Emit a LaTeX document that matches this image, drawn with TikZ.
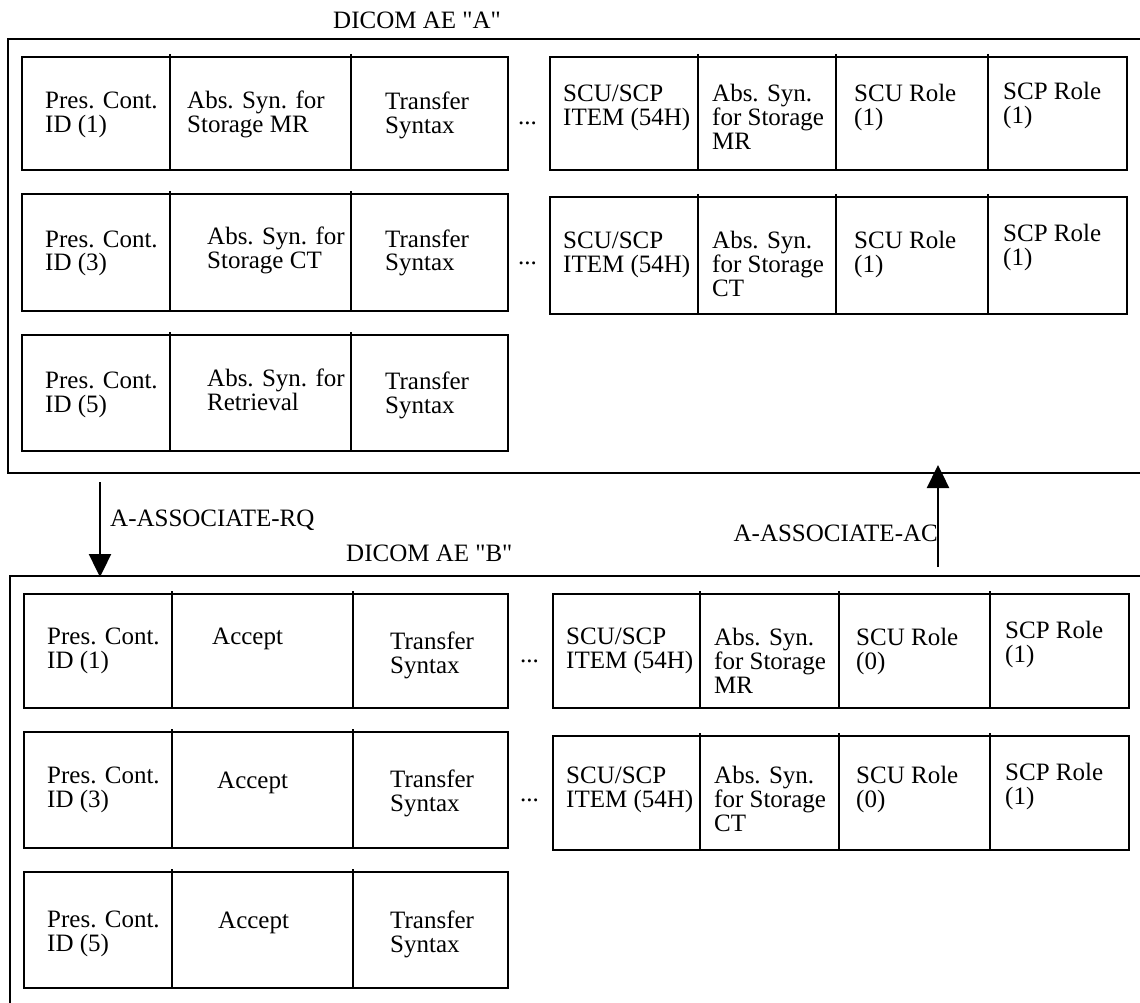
\documentclass[tikz,border=0pt]{standalone}
\usepackage{fontspec}
\setmainfont{Liberation Serif}[Ligatures=TeXOff]
\usetikzlibrary{arrows.meta}
\newcommand\ml[1]{\vtop{\halign{##\hfil\cr#1\crcr}}}
\newcommand\cellrow[6]{%
  \node[rowbox, minimum width=#4pt, minimum height=#5pt] (#1) at (#2,#3) {};
  \foreach \d in {#6} \draw[sep] (\d,#3-2) -- (\d,#3+#5+2);}
\begin{document}
\begin{tikzpicture}[x=1pt,y=-1pt,
  frame/.style={line width=2.6pt},
  rowbox/.style={draw, line width=2.4pt, inner sep=0pt, anchor=north west},
  sep/.style={line width=2.4pt},
  txt/.style={font=\fontsize{25}{24}\selectfont, inner sep=0pt, anchor=base west},
  arr/.style={line width=2.4pt, -{Triangle[length=23pt,width=22pt]}}
]
\useasboundingbox (0,0) rectangle (1140,1003);
\clip (0,0) rectangle (1140,1003);

% frames
\draw[frame] (1150,39) -- (8,39) -- (8,473) -- (1150,473);
\draw[frame] (1150,576) -- (10,576) -- (10,1010);

% rows of AE A
\cellrow{a1l}{21}{56}{486}{113}{170,351}
\cellrow{a2l}{21}{193}{486}{117}{170,351}
\cellrow{a3l}{21}{334}{486}{116}{170,351}
\cellrow{a1r}{549}{56}{577}{113}{698,836,988}
\cellrow{a2r}{549}{196}{577}{117}{698,836,988}

% rows of AE B
\cellrow{b1l}{23}{593}{484}{114}{172,353}
\cellrow{b2l}{23}{731}{484}{116}{172,353}
\cellrow{b3l}{23}{871}{484}{116}{172,353}
\cellrow{b1r}{552}{593}{576}{114}{700,839,990}
\cellrow{b2r}{552}{735}{576}{114}{700,839,990}

% labels
\node[txt] (la) at (333,29) {DICOM AE "A"};
\node[txt] (lb) at (346,561) {DICOM AE "B"};
\node[txt] (lrq) at (110,526) {A-ASSOCIATE-RQ};
\node[txt, anchor=base east] (lac) at (938,541) {A-ASSOCIATE-AC};

% arrows
\coordinate (rqs) at (100,482);
\coordinate (rqe) at (100,577);
\coordinate (acs) at (938,567);
\coordinate (ace) at (938,465);
\draw[arr] (rqs) -- (rqe);
\draw[arr] (acs) -- (ace);

% AE A row 1
\node[txt] (ta11) at (45,109) {\ml{Pres. Cont.\cr ID (1)}};
\node[txt] (ta12) at (187,109) {\ml{Abs. Syn. for\cr Storage MR}};
\node[txt] (ta13) at (385,110) {\ml{Transfer\cr Syntax}};
\node[txt] (da1) at (518,125) {...};
\node[txt] (ta14) at (563,102) {\ml{SCU/SCP\cr ITEM (54H)}};
\node[txt] (ta15) at (712,102) {\ml{Abs. Syn.\cr for Storage\cr MR}};
\node[txt] (ta16) at (854,102) {\ml{SCU Role\cr (1)}};
\node[txt] (ta17) at (1003,100) {\ml{SCP Role\cr (1)}};

% AE A row 2
\node[txt] (ta21) at (45,247) {\ml{Pres. Cont.\cr ID (3)}};
\node[txt] (ta22) at (207,244) {\ml{Abs. Syn. for\cr Storage CT}};
\node[txt] (ta23) at (385,247) {\ml{Transfer\cr Syntax}};
\node[txt] (da2) at (518,264) {...};
\node[txt] (ta24) at (563,248) {\ml{SCU/SCP\cr ITEM (54H)}};
\node[txt] (ta25) at (712,248) {\ml{Abs. Syn.\cr for Storage\cr CT}};
\node[txt] (ta26) at (854,248) {\ml{SCU Role\cr (1)}};
\node[txt] (ta27) at (1003,241) {\ml{SCP Role\cr (1)}};

% AE A row 3
\node[txt] (ta31) at (45,388) {\ml{Pres. Cont.\cr ID (5)}};
\node[txt] (ta32) at (207,386) {\ml{Abs. Syn. for\cr Retrieval}};
\node[txt] (ta33) at (385,389) {\ml{Transfer\cr Syntax}};

% AE B row 1
\node[txt] (tb11) at (47,644) {\ml{Pres. Cont.\cr ID (1)}};
\node[txt] (tb12) at (212,644) {Accept};
\node[txt] (tb13) at (390,649) {\ml{Transfer\cr Syntax}};
\node[txt] (db1) at (520,662) {...};
\node[txt] (tb14) at (566,644) {\ml{SCU/SCP\cr ITEM (54H)}};
\node[txt] (tb15) at (714,645) {\ml{Abs. Syn.\cr for Storage\cr MR}};
\node[txt] (tb16) at (856,645) {\ml{SCU Role\cr (0)}};
\node[txt] (tb17) at (1005,638) {\ml{SCP Role\cr (1)}};

% AE B row 2
\node[txt] (tb21) at (47,783) {\ml{Pres. Cont.\cr ID (3)}};
\node[txt] (tb22) at (217,788) {Accept};
\node[txt] (tb23) at (390,787) {\ml{Transfer\cr Syntax}};
\node[txt] (db2) at (520,801) {...};
\node[txt] (tb24) at (566,783) {\ml{SCU/SCP\cr ITEM (54H)}};
\node[txt] (tb25) at (714,783) {\ml{Abs. Syn.\cr for Storage\cr CT}};
\node[txt] (tb26) at (856,783) {\ml{SCU Role\cr (0)}};
\node[txt] (tb27) at (1005,780) {\ml{SCP Role\cr (1)}};

% AE B row 3
\node[txt] (tb31) at (47,927) {\ml{Pres. Cont.\cr ID (5)}};
\node[txt] (tb32) at (218,928) {Accept};
\node[txt] (tb33) at (390,928) {\ml{Transfer\cr Syntax}};
\end{tikzpicture}
\end{document}
